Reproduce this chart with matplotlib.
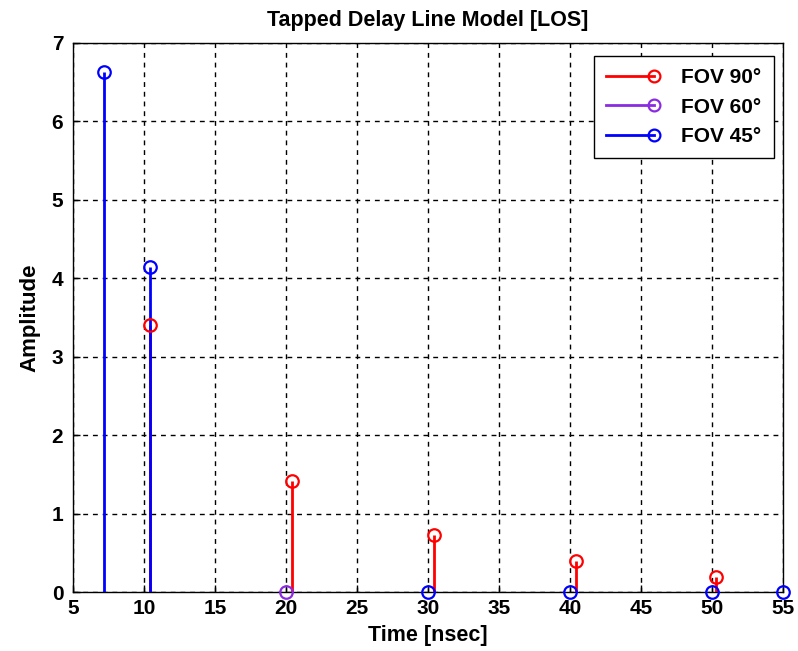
import matplotlib.pyplot as plt
from matplotlib.lines import Line2D
from matplotlib.legend_handler import HandlerBase

# stem data
t_fov90 = [10.4, 20.4, 30.4, 40.4, 50.3]
a_fov90 = [3.40, 1.41, 0.73, 0.39, 0.195]
t_fov60 = [20]
a_fov60 = [0.0]
t_fov45 = [7.15, 10.45, 30, 40, 50, 55]
a_fov45 = [6.63, 4.14, 0.0, 0.0, 0.0, 0.0]

series = [
    ('FOV 90°', t_fov90, a_fov90, '#ff0000'),
    ('FOV 60°', t_fov60, a_fov60, '#8a2be2'),
    ('FOV 45°', t_fov45, a_fov45, '#0000ff'),
]

plt.rcParams['font.family'] = ['Liberation Sans', 'DejaVu Sans']
plt.rcParams['font.weight'] = 'bold'

fig = plt.figure(figsize=(7.98, 6.51), dpi=100)
ax = fig.add_axes([0.0915, 0.0906, 0.8895, 0.8434])


class StemHandler(HandlerBase):
    # line with the open circle on its right end, like MATLAB's stem legend
    def create_artists(self, legend, orig_handle, xdescent, ydescent,
                       width, height, fontsize, trans):
        y = height / 2 - ydescent
        c = orig_handle.get_color()
        ln = Line2D([-xdescent, width - xdescent], [y, y], color=c, lw=2)
        mk = Line2D([width - xdescent], [y], marker='o', ms=8.5,
                    mfc='none', mec=c, mew=1.6, ls='none')
        ln.set_transform(trans)
        mk.set_transform(trans)
        return [ln, mk]


handles = []
for label, t, a, col in series:
    ax.vlines(t, 0, a, color=col, lw=2, zorder=3)
    ax.plot(t, a, 'o', ms=9, mfc='none', mec=col, mew=1.6, zorder=4,
            clip_on=False)
    handles.append(Line2D([], [], color=col, label=label))

ax.set_xlim(5, 55)
ax.set_ylim(0, 7)
ax.set_xticks(range(5, 56, 5))
ax.set_yticks(range(0, 8))
ax.grid(True, color='black', linestyle=(0, (3.5, 3.5)), linewidth=1)
ax.tick_params(direction='in', length=5, labelsize=15, width=1, pad=5)
ax.tick_params(axis='y', pad=7)
for s in ax.spines.values():
    s.set_linewidth(1)

ax.set_title('Tapped Delay Line Model [LOS]', fontsize=15.5,
             fontweight='bold', pad=12)
ax.set_xlabel('Time [nsec]', fontsize=15.5, fontweight='bold', labelpad=5)
ax.set_ylabel('Amplitude', fontsize=16, fontweight='bold', labelpad=8)

leg = ax.legend(handles=handles, handler_map={Line2D: StemHandler()},
                loc='upper right', bbox_to_anchor=(0.9875, 0.977),
                fontsize=15, frameon=True, fancybox=False, edgecolor='black',
                framealpha=1, handlelength=2.3, handletextpad=1.3,
                borderpad=0.6, labelspacing=0.5, borderaxespad=0)
leg.get_frame().set_linewidth(1)

fig.savefig('out.png', dpi=100)
